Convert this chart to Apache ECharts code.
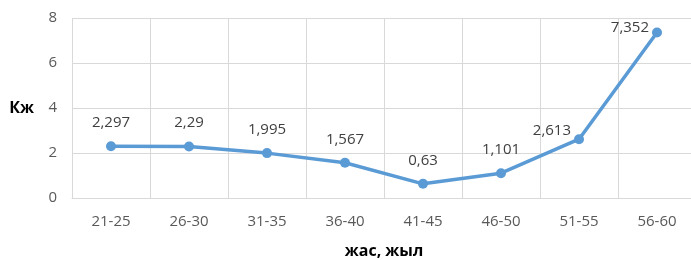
<!DOCTYPE html>
<html><head><meta charset="utf-8">
<script src="https://cdn.jsdelivr.net/npm/echarts@6/dist/echarts.min.js"></script>
<style>html,body{margin:0;padding:0;background:#fff}#c{width:691px;height:260px}</style>
</head><body><div id="c"></div>
<script>
const categories = ['21-25','26-30','31-35','36-40','41-45','46-50','51-55','56-60'];
const values = [2.297, 2.29, 1.995, 1.567, 0.63, 1.101, 2.613, 7.352];
const yTicks = [0, 2, 4, 6, 8];
const xName = 'жас, жыл';
const yName = 'Кж';

const font = '"Open Sans", "DejaVu Sans", sans-serif';
const chart = echarts.init(document.getElementById('c'), null, {renderer: 'canvas'});
const leftLabelIdx = {6: [0, -8], 7: [0, -5]};
chart.setOption({
  animation: false,
  grid: {left: 72, top: 18, width: 624, height: 180, containLabel: false, outerBoundsMode: 'none'},
  xAxis: {
    type: 'category', data: categories, boundaryGap: true,
    axisLine: {show: true, lineStyle: {color: '#d9d9d9', width: 1}},
    axisTick: {show: false},
    splitLine: {show: true, lineStyle: {color: '#d9d9d9', width: 1}},
    axisLabel: {color: '#595959', fontSize: 15, fontFamily: font, margin: 16, interval: 0},
    name: xName, nameLocation: 'middle', nameGap: 45,
    nameTextStyle: {color: '#000', fontSize: 16, fontWeight: 'bold', fontFamily: font}
  },
  yAxis: {
    type: 'value', min: yTicks[0], max: yTicks[yTicks.length-1], interval: 2,
    axisLine: {show: false}, axisTick: {show: false},
    splitLine: {show: true, lineStyle: {color: '#d9d9d9', width: 1}},
    axisLabel: {color: '#595959', fontSize: 15, fontFamily: font, margin: 15},
    name: yName, nameLocation: 'middle', nameRotate: 0, nameGap: 38,
    nameTextStyle: {color: '#000', fontSize: 16, fontWeight: 'bold', fontFamily: font, padding: [4, 0, 0, 0]}
  },
  series: [{
    type: 'line',
    data: values.map((v, i) => leftLabelIdx[i] ? {value: v, label: {position: 'left', distance: 3, offset: leftLabelIdx[i]}} : v),
    lineStyle: {color: '#5b9bd5', width: 3.5},
    itemStyle: {color: '#5b9bd5'},
    symbol: 'circle', symbolSize: 10,
    label: {show: true, position: 'top', distance: 11, color: '#404040', fontSize: 15, fontFamily: font,
      formatter: p => String(p.value).replace('.', ',')}
  }]
});
</script></body></html>
